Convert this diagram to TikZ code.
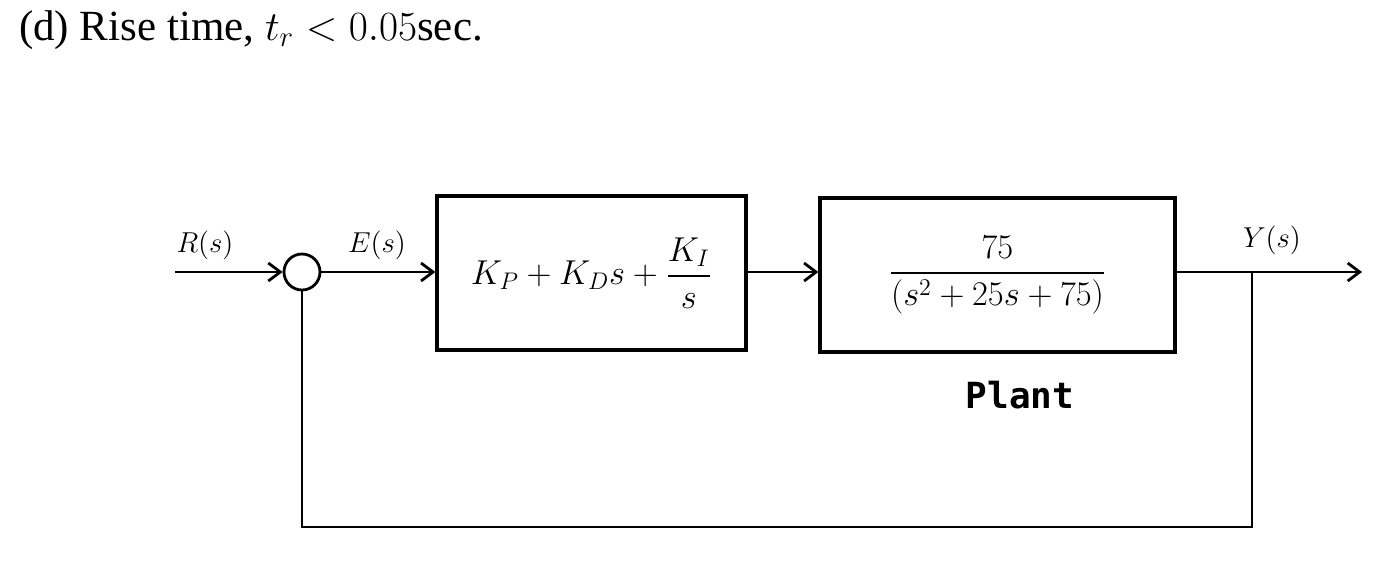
\documentclass[tikz,border=0pt]{standalone}
\usepackage{amsmath}
\usepackage{fontspec}
\setmainfont{Liberation Serif}
\newfontfamily\plantfont{DejaVu Sans Mono}[Scale=1]
\usetikzlibrary{arrows.meta}
\begin{document}
\begin{tikzpicture}[x=0.5pt,y=-0.5pt,
  blk/.style={draw,line width=1.6pt,inner sep=0pt},
  ln/.style={line width=1.4pt},
  arr/.style={ln,-{Straight Barb[length=6pt,width=9pt]}}]
\useasboundingbox (0,0) rectangle (1397,579);
\node[anchor=west,font=\fontsize{21.5}{24}\selectfont] (title) at (12,30) {(d) Rise time, $t_r < 0.05$sec.};
\node[draw,circle,line width=1.4pt,minimum size=36*0.5pt,inner sep=0pt] (sum) at (302,272) {};
\coordinate (rin) at (175,272);
\node[blk,minimum width=309*0.5pt,minimum height=154*0.5pt] (c) at (591.5,273) {};
\node[font=\fontsize{18}{20}\selectfont] at (c) {$K_P + K_D s + \dfrac{K_I}{s}$};
\node[blk,minimum width=355*0.5pt,minimum height=154*0.5pt] (p) at (997.5,275) {};
\node[font=\fontsize{18}{20}\selectfont] at (p) {$\dfrac{75}{(s^2+25s+75)}$};
\node[font=\plantfont\bfseries\fontsize{18}{20}\selectfont] (plant) at (1020,395) {Plant};
\node[font=\fontsize{15}{17}\selectfont] (R) at (205,245) {$R(s)$};
\node[font=\fontsize{15}{17}\selectfont] (E) at (377,245) {$E(s)$};
\node[font=\fontsize{15}{17}\selectfont] (Y) at (1272,240) {$Y(s)$};
\coordinate (yout) at (1362,272);
\coordinate (tap) at (1252,272);
\coordinate (fb1) at (1252,527);
\coordinate (fb2) at (302,527);
\draw[arr] (rin) -- (sum.west);
\draw[arr] (sum.east) -- (c.west |- sum.east);
\draw[arr] (c.east |- 0,272) -- (p.west |- 0,272);
\draw[arr] (p.east |- 0,272) -- (yout);
\draw[ln] (tap) -- (fb1) -- (fb2) -- (sum.south);
\end{tikzpicture}
\end{document}
